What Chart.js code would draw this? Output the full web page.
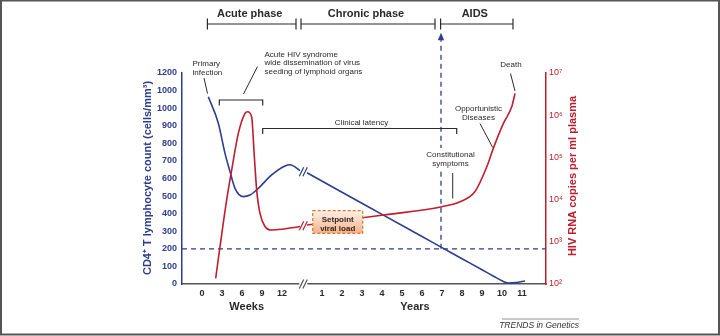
<!DOCTYPE html>
<html>
<head>
<meta charset="utf-8">
<script src="https://cdn.jsdelivr.net/npm/chart.js@4.4.1/dist/chart.umd.min.js"></script>
<style>
  html, body { margin: 0; padding: 0; background: #fff; }
  #wrap { width: 720px; height: 336px; }
</style>
</head>
<body>
<div id="wrap"><canvas id="grafico"></canvas></div>
<script>
// tick labels
const weekTicks = [0, 3, 6, 9, 12]
const yearTicks = [1, 2, 3, 4, 5, 6, 7, 8, 9, 10, 11]
const cd4TickValues = [0, 100, 200, 300, 400, 500, 600, 700, 800, 900, 1000, 1100, 1200]
const cd4TickLabels = ['0', '100', '200', '300', '400', '500', '600', '700', '800', '900', '1000', '1000', '1200']
const rnaTickValues = [1e2, 1e3, 1e4, 1e5, 1e6, 1e7]
const rnaTickLabels = ['10²', '10³', '10⁴', '10⁵', '10⁶', '10⁷']

// CD4+ T lymphocyte count (cells/mm3)
const cd4AcuteWeeks = [0.95, 2.45, 3.45, 4.2, 4.95, 6.2, 7.2, 8.45, 10.45, 12.45, 13.2, 14.7]
const cd4AcuteCounts = [1065, 914, 743, 639, 544, 497, 506, 544, 620, 671, 678, 645]
const cd4ChronicYears = [0.25, 2, 4, 6, 7, 8, 9, 9.6, 10, 10.3, 10.7, 11.15]
const cd4ChronicCounts = [633, 522, 396, 270, 207, 144, 81, 43, 18, 6, 8, 17]

// HIV RNA copies per ml plasma
const rnaAcuteWeeks = [2.05, 2.7, 3.7, 4.45, 5.45, 6.45, 6.85, 7.45, 7.85, 8.2, 8.7, 9.45, 10.45, 11.95, 14.7]
const rnaAcuteCopies = [136, 766, 9800, 50000, 370000, 1100000, 1210000, 910000, 105000, 17000, 4700, 2300, 1900, 1980, 2300]
const rnaChronicYears = [0.25, 4.07, 7, 7.9, 8.65, 9.24, 9.57, 10.07, 10.49, 10.65]
const rnaChronicCopies = [2500, 4300, 6800, 8900, 15500, 60000, 166000, 640000, 1600000, 3300000]

const cd4Threshold = 200
const aidsOnsetYear = 6.95

// weeks and years share one axis: 3 weeks = 1 unit, years start after the break
const fromWeeks = w => w / 3
const fromYears = y => 5 + y
const xTicks = weekTicks.map(w => ({ value: fromWeeks(w), label: String(w) }))
  .concat(yearTicks.map(y => ({ value: fromYears(y), label: String(y) })))

const BLUE = '#2e3d91'
const RED = '#be1e2d'
const INK = '#2a2a2a'
const FONT = "'Liberation Sans', Arial, sans-serif"

const pts = (xs, ys, conv) => xs.map((v, i) => ({ x: conv(v), y: ys[i] }))

const curve = (data, color, axis) => ({
  data: data,
  yAxisID: axis,
  borderColor: color,
  borderWidth: 1.6,
  pointRadius: 0,
  cubicInterpolationMode: 'monotone',
  fill: false
})

const decor = {
  id: 'decor',
  afterDraw(chart) {
    const { ctx, chartArea: a, scales } = chart
    const x = scales.x, y = scales.y, yR = scales.yR

    const line = (x1, y1, x2, y2, color, w) => {
      ctx.beginPath()
      ctx.moveTo(x1, y1)
      ctx.lineTo(x2, y2)
      ctx.strokeStyle = color
      ctx.lineWidth = w || 1
      ctx.stroke()
    }
    const text = (s, tx, ty, font, color, align) => {
      ctx.font = font
      ctx.fillStyle = color
      ctx.textAlign = align || 'center'
      ctx.textBaseline = 'middle'
      ctx.fillText(s, tx, ty)
    }
    const breakMark = (cx, cy, color) => {
      [-1.8, 1.8].forEach(d => line(cx + d - 2.2, cy + 4.5, cx + d + 2.2, cy - 4.5, color, 1.2))
    }

    ctx.save()

    // frame
    ctx.strokeStyle = '#555'
    ctx.lineWidth = 2
    ctx.strokeRect(1, 0.5, 718, 334)

    // phase header
    const phases = [['Acute phase', 0.27, 4.7], ['Chronic phase', 4.95, 11.65], ['AIDS', 11.93, 15.55]]
    phases.forEach(p => {
      const x1 = x.getPixelForValue(p[1]), x2 = x.getPixelForValue(p[2])
      line(x1, 24, x2, 24, INK, 1.2)
      line(x1, 18.5, x1, 29.5, INK, 1.2)
      line(x2, 18.5, x2, 29.5, INK, 1.2)
      text(p[0], (x1 + x2) / 2 - 2, 13.5, 'bold 11px ' + FONT, INK)
    })

    // arrow head of the AIDS onset line
    const ax = x.getPixelForValue(fromYears(aidsOnsetYear))
    const ay = y.getPixelForValue(1400)
    ctx.beginPath()
    ctx.moveTo(ax, ay - 5)
    ctx.lineTo(ax + 3.2, ay + 2.5)
    ctx.lineTo(ax - 3.2, ay + 2.5)
    ctx.closePath()
    ctx.fillStyle = BLUE
    ctx.fill()

    const small = '8px ' + FONT
    // primary infection
    text('Primary', 192.5, 63.5, small, INK, 'left')
    text('infection', 192.5, 72.5, small, INK, 'left')
    line(204, 78, 207.5, 93.5, INK, 1)

    // acute HIV syndrome
    text('Acute HIV syndrome', 264.5, 54.5, small, INK, 'left')
    text('wide dissemination of virus', 264.5, 63.2, small, INK, 'left')
    text('seeding of lymphoid organs', 264.5, 71.9, small, INK, 'left')
    line(257.5, 66.5, 243.5, 94, INK, 1)
    line(219.3, 100, 262.7, 100, INK, 1.2)
    line(219.3, 99.4, 219.3, 105.5, INK, 1.2)
    line(262.7, 99.4, 262.7, 105.5, INK, 1.2)

    // clinical latency
    text('Clinical latency', 361.5, 122.5, small, INK)
    line(262.7, 128.5, 456.7, 128.5, INK, 1.2)
    line(262.7, 127.9, 262.7, 134, INK, 1.2)
    line(456.7, 127.9, 456.7, 134, INK, 1.2)

    // death
    text('Death', 511, 65, small, INK)
    line(510.5, 73.5, 515, 91, INK, 1)

    // opportunistic diseases
    text('Opportunistic', 478.5, 108.3, small, INK)
    text('Diseases', 478.5, 117.3, small, INK)
    line(480, 123.5, 492.7, 147.5, INK, 1)

    // constitutional symptoms
    ctx.fillStyle = '#fff'
    ctx.fillRect(425, 148, 52, 21)
    text('Constitutional', 450.5, 154.3, small, INK)
    text('symptoms', 450.5, 163.3, small, INK)
    line(452.7, 173, 452.7, 198.5, INK, 1)

    // setpoint viral load box
    const g = ctx.createLinearGradient(0, 210.7, 0, 233.3)
    g.addColorStop(0, '#fdf1e8')
    g.addColorStop(1, '#f1b28b')
    ctx.fillStyle = g
    ctx.fillRect(312.7, 210.7, 50, 22.6)
    ctx.setLineDash([3, 2])
    ctx.strokeStyle = '#e8712a'
    ctx.lineWidth = 1.2
    ctx.strokeRect(312.7, 210.7, 50, 22.6)
    ctx.setLineDash([])
    text('Setpoint', 337.7, 219.3, 'bold 8px ' + FONT, '#3a2418')
    text('viral load', 337.7, 228.7, 'bold 8px ' + FONT, '#3a2418')

    // axis breaks
    const bx = x.getPixelForValue(5.065)
    breakMark(bx, y.getPixelForValue(638), BLUE)
    breakMark(bx, yR.getPixelForValue(2400), RED)
    ctx.fillStyle = '#fff'
    ctx.fillRect(bx - 4, a.bottom - 2, 8, 4)
    breakMark(bx, a.bottom, '#555')

    // axis titles
    ctx.save()
    ctx.translate(148, 178)
    ctx.rotate(-Math.PI / 2)
    text('CD4⁺ T lymphocyte count (cells/mm³)', 0, 0, 'bold 11px ' + FONT, BLUE)
    ctx.restore()
    ctx.save()
    ctx.translate(573, 176)
    ctx.rotate(-Math.PI / 2)
    text('HIV RNA copies per ml plasma', 0, 0, 'bold 11px ' + FONT, RED)
    ctx.restore()
    text('Weeks', x.getPixelForValue(fromWeeks(6.7)), 307, 'bold 11px ' + FONT, INK)
    text('Years', x.getPixelForValue(fromYears(5.65)), 307, 'bold 11px ' + FONT, INK)

    // source
    line(502, 319, 579, 319, '#777', 0.8)
    text('TRENDS in Genetics', 579, 325.5, 'italic 8.5px ' + FONT, '#333', 'right')

    ctx.restore()
  }
}

const ctx = document.getElementById('grafico')

let grafico = new Chart(ctx, {
  type: 'line',
  data: {
    datasets: [
      curve(pts(rnaAcuteWeeks, rnaAcuteCopies, fromWeeks), RED, 'yR'),
      curve(pts(rnaChronicYears, rnaChronicCopies, fromYears), RED, 'yR'),
      curve(pts(cd4AcuteWeeks, cd4AcuteCounts, fromWeeks), BLUE, 'y'),
      curve(pts(cd4ChronicYears, cd4ChronicCounts, fromYears), BLUE, 'y'),
      {
        data: [{ x: -1, y: cd4Threshold }, { x: 17.2, y: cd4Threshold }],
        yAxisID: 'y',
        borderColor: BLUE,
        borderWidth: 1.3,
        borderDash: [5, 4],
        pointRadius: 0
      },
      {
        data: [{ x: fromYears(aidsOnsetYear), y: cd4Threshold }, { x: fromYears(aidsOnsetYear), y: 1400 }],
        yAxisID: 'y',
        borderColor: BLUE,
        borderWidth: 1.3,
        borderDash: [5, 4],
        pointRadius: 0,
        clip: false
      }
    ]
  },
  options: {
    responsive: true,
    maintainAspectRatio: false,
    animation: false,
    devicePixelRatio: 1,
    layout: { padding: { top: 73, left: 0, right: 0, bottom: 0 } },
    plugins: {
      legend: { display: false },
      tooltip: { enabled: false }
    },
    scales: {
      x: {
        type: 'linear',
        min: -1,
        max: 17.2,
        afterFit: s => { s.height = 52 },
        afterBuildTicks: s => { s.ticks = xTicks.map(t => ({ value: t.value })) },
        grid: { display: false, drawTicks: false },
        border: { display: true, color: '#555', width: 1.5 },
        ticks: {
          autoSkip: false,
          maxRotation: 0,
          padding: 4,
          color: INK,
          font: { family: FONT, size: 9, weight: 'bold' },
          callback: (v, i) => xTicks[i].label
        }
      },
      y: {
        type: 'linear',
        position: 'left',
        min: 0,
        max: 1200,
        afterFit: s => { s.width = 182 },
        afterBuildTicks: s => { s.ticks = cd4TickValues.map(v => ({ value: v })) },
        grid: { display: false, drawTicks: false },
        border: { display: true, color: BLUE, width: 1.5 },
        ticks: {
          padding: 5,
          color: BLUE,
          font: { family: FONT, size: 9, weight: 'bold' },
          callback: (v, i) => cd4TickLabels[i]
        }
      },
      yR: {
        type: 'logarithmic',
        position: 'right',
        min: 100,
        max: 1e7,
        afterFit: s => { s.width = 174 },
        afterBuildTicks: s => { s.ticks = rnaTickValues.map(v => ({ value: v })) },
        grid: { display: false, drawTicks: false },
        border: { display: true, color: RED, width: 1.5 },
        ticks: {
          padding: 3,
          color: RED,
          font: { family: FONT, size: 9 },
          callback: (v, i) => rnaTickLabels[i]
        }
      }
    }
  },
  plugins: [decor]
})
</script>
</body>
</html>
